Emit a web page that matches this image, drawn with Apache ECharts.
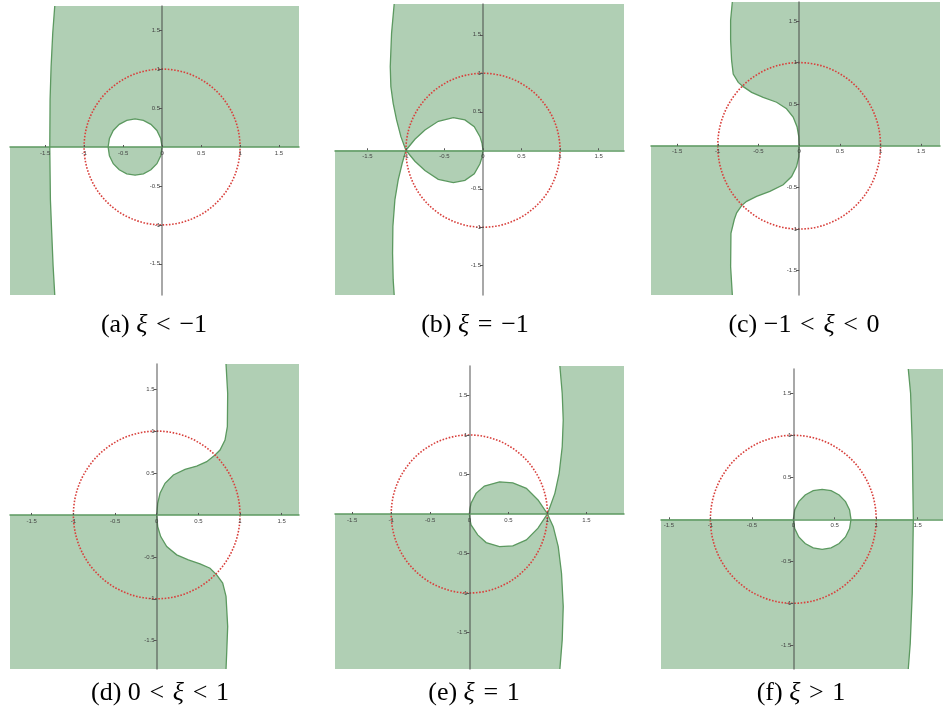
<!DOCTYPE html>
<html>
<head>
<meta charset="utf-8">
<script src="https://cdn.jsdelivr.net/npm/echarts@6/dist/echarts.min.js"></script>
<style>
html, body { margin: 0; padding: 0; background: #fff; }
#chart { width: 943px; height: 717px; }
</style>
</head>
<body>
<div id="chart"></div>
<script>
// tick labels
const xTicks = [-1.5, -1, -0.5, 0, 0.5, 1, 1.5];
const yTicks = [-1.5, -1, -0.5, 0.5, 1, 1.5];

// unit circle: centre x, centre y, radius
const unitCircle = [[0, 0, 1]];

// (a) xi < -1
const aCurveUp = [[-1.376, 1.81], [-1.402, 1.46], [-1.423, 1.03], [-1.436, 0.61], [-1.44, 0]];
const aCurveDown = [[-1.44, 0], [-1.432, -0.675], [-1.415, -1.10], [-1.397, -1.53], [-1.376, -1.90]];
const aLoopUp = [[-0.692, 0], [-0.675, 0.111], [-0.626, 0.212], [-0.549, 0.291], [-0.453, 0.342], [-0.346, 0.36],
  [-0.239, 0.342], [-0.143, 0.291], [-0.066, 0.212], [-0.017, 0.111], [0, 0]];
const aLoopDown = [[-0.692, 0], [-0.675, -0.112], [-0.626, -0.214], [-0.549, -0.293], [-0.453, -0.344], [-0.346, -0.362],
  [-0.239, -0.344], [-0.143, -0.293], [-0.066, -0.214], [-0.017, -0.112], [0, 0]];

// (b) xi = -1
const bCurveUp = [[-1.152, 1.90], [-1.186, 1.519], [-1.203, 1.087], [-1.195, 0.827], [-1.165, 0.61],
  [-1.121, 0.394], [-1.065, 0.177], [-1.0, 0]];
const bCurveDown = [[-1.0, 0], [-1.048, -0.169], [-1.10, -0.385], [-1.143, -0.645], [-1.169, -0.991],
  [-1.173, -1.338], [-1.165, -1.684], [-1.152, -1.88]];
const bLoopUp = [[-1.0, 0], [-0.883, 0.143], [-0.753, 0.264], [-0.58, 0.377], [-0.385, 0.424], [-0.234, 0.394],
  [-0.113, 0.307], [-0.039, 0.177], [-0.012, 0.09], [0, 0]];
const bLoopDown = [[-1.0, 0], [-0.883, -0.143], [-0.753, -0.264], [-0.58, -0.377], [-0.385, -0.42], [-0.234, -0.39],
  [-0.113, -0.305], [-0.039, -0.175], [-0.012, -0.09], [0, 0]];

// (c) -1 < xi < 0
const cCurveUp = [[-0.821, 1.728], [-0.842, 1.508], [-0.842, 1.268], [-0.83, 1.028], [-0.81, 0.862], [-0.748, 0.762],
  [-0.687, 0.711], [-0.584, 0.643], [-0.442, 0.583], [-0.277, 0.524], [-0.155, 0.445], [-0.074, 0.345],
  [-0.025, 0.226], [-0.004, 0.107], [0, 0]];
const cCurveDown = [[0, 0], [-0.004, -0.131], [-0.032, -0.25], [-0.093, -0.369], [-0.196, -0.468], [-0.36, -0.548],
  [-0.523, -0.607], [-0.645, -0.667], [-0.707, -0.718], [-0.768, -0.805], [-0.797, -0.885], [-0.838, -1.052],
  [-0.842, -1.452], [-0.821, -1.792]];

// (d) 0 < xi < 1
const dCurveUp = [[0.832, 1.80], [0.852, 1.448], [0.848, 1.052], [0.82, 0.893], [0.76, 0.774], [0.70, 0.714],
  [0.60, 0.635], [0.48, 0.583], [0.34, 0.544], [0.20, 0.476], [0.10, 0.377], [0.04, 0.258], [0.012, 0.139], [0, 0]];
const dCurveDown = [[0, 0], [0.012, -0.139], [0.048, -0.258], [0.12, -0.377], [0.24, -0.476], [0.38, -0.536],
  [0.52, -0.583], [0.64, -0.635], [0.72, -0.714], [0.792, -0.813], [0.832, -0.972], [0.852, -1.329],
  [0.84, -1.647], [0.832, -1.837]];

// (e) xi = 1
const eLoopUp = [[0, 0], [0.008, 0.07], [0.022, 0.135], [0.086, 0.261], [0.193, 0.353], [0.386, 0.407], [0.557, 0.395],
  [0.73, 0.324], [0.879, 0.177], [1, 0]];
const eLoopDown = [[0, 0], [0.008, -0.07], [0.022, -0.139], [0.107, -0.265], [0.215, -0.362], [0.386, -0.412],
  [0.557, -0.403], [0.73, -0.328], [0.879, -0.18], [1, 0]];
const eCurveUp = [[1, 0], [1.095, 0.261], [1.15, 0.514], [1.189, 0.851], [1.202, 1.188], [1.189, 1.525], [1.159, 1.873]];
const eCurveDown = [[1, 0], [1.074, -0.16], [1.138, -0.413], [1.18, -0.75], [1.202, -1.171], [1.189, -1.593], [1.159, -1.962]];

// (f) xi > 1
const fLoopUp = [[0, 0], [0.017, 0.11], [0.066, 0.21], [0.143, 0.289], [0.24, 0.34], [0.348, 0.357],
  [0.456, 0.34], [0.553, 0.289], [0.63, 0.21], [0.679, 0.11], [0.696, 0]];
const fLoopDown = [[0, 0], [0.017, -0.11], [0.066, -0.21], [0.143, -0.289], [0.24, -0.34], [0.348, -0.357],
  [0.456, -0.34], [0.553, -0.289], [0.63, -0.21], [0.679, -0.11], [0.696, 0]];
const fCurveUp = [[1.387, 1.789], [1.415, 1.5], [1.435, 0.905], [1.448, 0]];
const fCurveDown = [[1.448, 0], [1.435, -0.881], [1.411, -1.476], [1.387, -1.782]];

const S = '\u2004';
const captions = ['(a) {i|ξ}' + S + '<' + S + '−1', '(b) {i|ξ}' + S + '=' + S + '−1',
  '(c) −1' + S + '<' + S + '{i|ξ}' + S + '<' + S + '0', '(d) 0' + S + '<' + S + '{i|ξ}' + S + '<' + S + '1',
  '(e) {i|ξ}' + S + '=' + S + '1', '(f) {i|ξ}' + S + '>' + S + '1'];

// layout of the six panels
const panels = [
  { box: [10, 6, 289, 289], x: [-1.95, 1.756], y: [-1.90, 1.81], cap: [154, 325] },
  { box: [335, 4, 289, 291], x: [-1.92, 1.83], y: [-1.88, 1.90], cap: [475, 325] },
  { box: [651, 2, 289, 293], x: [-1.82, 1.73], y: [-1.792, 1.728], cap: [804, 325] },
  { box: [10, 364, 289, 305], x: [-1.761, 1.708], y: [-1.837, 1.80], cap: [160, 693] },
  { box: [335, 366, 289, 303], x: [-1.72, 1.98], y: [-1.962, 1.873], cap: [474, 693] },
  { box: [661, 369, 282, 300], x: [-1.596, 1.806], y: [-1.782, 1.789], cap: [801, 693] }
];

const FILL = '#b0cfb4';
const EDGE = '#5c9960';
const RED = '#d8403c';

function regions(i) {
  const [X0, X1] = panels[i].x;
  const [Y0, Y1] = panels[i].y;
  switch (i) {
    case 0: return {
      fills: [
        [...aCurveUp, ...aLoopUp, [X1, 0], [X1, Y1]],
        aLoopDown,
        [[X0, 0], ...aCurveDown, [X0, Y0]]
      ],
      edges: [aCurveUp.concat(aCurveDown), aLoopUp, aLoopDown]
    };
    case 1: return {
      fills: [
        [...bCurveUp, ...bLoopUp, [X1, 0], [X1, Y1]],
        bLoopDown,
        [[X0, 0], ...bCurveDown, [X0, Y0]]
      ],
      edges: [bCurveUp, bCurveDown, bLoopUp, bLoopDown]
    };
    case 2: return {
      fills: [
        [...cCurveUp, [X1, 0], [X1, Y1]],
        [[X0, 0], ...cCurveDown, [X0, Y0]]
      ],
      edges: [cCurveUp, cCurveDown]
    };
    case 3: return {
      fills: [
        [...dCurveUp, [X1, 0], [X1, Y1]],
        [[X0, 0], ...dCurveDown, [X0, Y0]]
      ],
      edges: [dCurveUp, dCurveDown]
    };
    case 4: return {
      fills: [
        eLoopUp,
        [...eCurveUp, [X1, Y1], [X1, 0]],
        [[X0, 0], ...eLoopDown, ...eCurveDown, [X0, Y0]]
      ],
      edges: [eLoopUp, eLoopDown, eCurveUp, eCurveDown]
    };
    default: return {
      fills: [
        fLoopUp,
        [...fCurveUp, [X1, 0], [X1, Y1]],
        [[X0, 0], ...fLoopDown, ...fCurveDown, [X0, Y0]]
      ],
      edges: [fLoopUp, fLoopDown, fCurveUp.concat(fCurveDown)]
    };
  }
}

const grid = [], xAxis = [], yAxis = [], series = [], graphic = [];

panels.forEach((p, i) => {
  const [left, top, w, h] = p.box;
  grid.push({ left, top, width: w, height: h });
  // put the axes through the origin (offset from the grid's bottom / left edge)
  const xOff = -h * (0 - p.y[0]) / (p.y[1] - p.y[0]);
  const yOff = -w * (0 - p.x[0]) / (p.x[1] - p.x[0]);
  xAxis.push({
    type: 'value', gridIndex: i, min: p.x[0], max: p.x[1], z: 5,
    position: 'bottom', offset: xOff,
    splitLine: { show: false },
    axisLine: { onZero: false, lineStyle: { color: EDGE, width: 1.5 } },
    axisTick: { customValues: xTicks, inside: true, length: 2, lineStyle: { color: '#555' } },
    axisLabel: { customValues: xTicks, fontSize: 6, color: '#444', margin: 3, fontFamily: 'Liberation Sans' }
  });
  yAxis.push({
    type: 'value', gridIndex: i, min: p.y[0], max: p.y[1], z: 5,
    position: 'left', offset: yOff,
    splitLine: { show: false },
    axisLine: { onZero: false, lineStyle: { color: 'rgba(60,60,60,0.6)', width: 1.5 } },
    axisTick: { customValues: yTicks, length: 3, lineStyle: { color: '#555' } },
    axisLabel: { customValues: yTicks, fontSize: 6, color: '#444', margin: 2, fontFamily: 'Liberation Sans' }
  });

  const r = regions(i);
  const items = r.fills.map(pts => ({ pts, fill: true }))
    .concat(r.edges.map(pts => ({ pts, fill: false })));
  series.push({
    type: 'custom', xAxisIndex: i, yAxisIndex: i, clip: true, silent: true, z: 2,
    data: items.map(() => [0, 0]),
    renderItem: function (params, api) {
      const it = items[params.dataIndex];
      const pts = it.pts.map(q => api.coord(q));
      if (it.fill) {
        return { type: 'polygon', shape: { points: pts }, style: { fill: FILL } };
      }
      return { type: 'polyline', shape: { points: pts }, style: { stroke: EDGE, lineWidth: 1.3, fill: null } };
    }
  });
  series.push({
    type: 'custom', xAxisIndex: i, yAxisIndex: i, clip: true, silent: true, z: 3,
    data: unitCircle,
    renderItem: function (params, api) {
      const c = api.coord([api.value(0), api.value(1)]);
      const s = api.size([api.value(2), api.value(2)]);
      return {
        type: 'ellipse',
        shape: { cx: c[0], cy: c[1], rx: s[0], ry: s[1] },
        style: { fill: null, stroke: RED, lineWidth: 1.6, lineDash: [1.6, 1.6] }
      };
    }
  });

  graphic.push({
    type: 'text', x: p.cap[0], y: p.cap[1],
    style: {
      text: captions[i], fontSize: 26, fontFamily: 'Liberation Serif', fill: '#000',
      align: 'center', verticalAlign: 'middle',
      rich: { i: { fontStyle: 'italic', fontSize: 26, fontFamily: 'Liberation Serif' } }
    }
  });
});

const chart = echarts.init(document.getElementById('chart'));
chart.setOption({
  backgroundColor: '#fff',
  animation: false,
  grid, xAxis, yAxis, series, graphic
});
</script>
</body>
</html>
